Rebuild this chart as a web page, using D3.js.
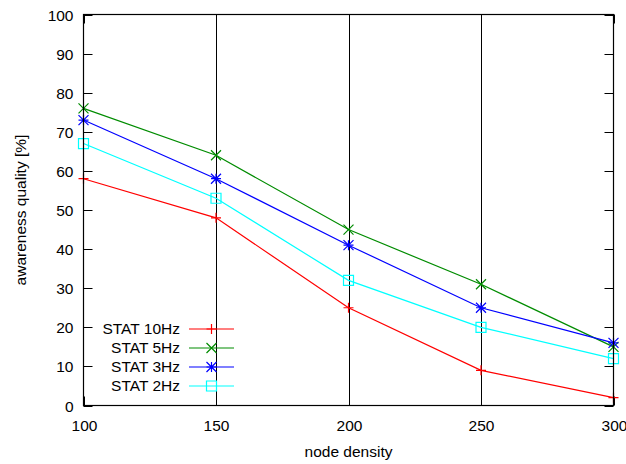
<!DOCTYPE html>
<html><head><meta charset="utf-8">
<script src="https://cdn.jsdelivr.net/npm/d3@7"></script>
<style>body{margin:0;background:#fff}svg{display:block}text{font-family:"Liberation Sans",Arial,sans-serif;font-size:15.5px;fill:#000}</style>
</head><body><svg id="c" width="626" height="464"></svg>
<script>
const xValues = [100, 150, 200, 250, 300];
const seriesNames = ["STAT 10Hz", "STAT 5Hz", "STAT 3Hz", "STAT 2Hz"];
const stat10 = [58, 48, 25, 9, 2];
const stat5 = [76, 64, 45, 31, 15];
const stat3 = [73, 58, 41, 25, 16];
const stat2 = [67, 53, 32, 20, 12];
const colors = ["#ff0000", "#008c00", "#0000ff", "#00ffff"];
const markers = ["plus", "cross", "star", "square"];
const yTicks = [0,10,20,30,40,50,60,70,80,90,100];
const xTicks = [100,150,200,250,300];
const gridX = [150,200,250];

const series = [stat10, stat5, stat3, stat2];
const svg = d3.select("#c");
const L=83.5, R=613.5, T=14.5, B=405.5;
const x = d3.scaleLinear().domain([100,300]).range([L,R]);
const y = d3.scaleLinear().domain([0,100]).range([B,T]);

svg.selectAll(".g").data(gridX).enter().append("line")
  .attr("x1",d=>Math.round(x(d))+0.5).attr("x2",d=>Math.round(x(d))+0.5)
  .attr("y1",T).attr("y2",B).attr("stroke","#000").attr("stroke-width",1);

const tl=9;
yTicks.forEach(v=>{
  const yy=Math.round(y(v))+0.5;
  svg.append("line").attr("x1",L).attr("x2",L+tl).attr("y1",yy).attr("y2",yy).attr("stroke","#000");
  svg.append("line").attr("x1",R-tl).attr("x2",R).attr("y1",yy).attr("y2",yy).attr("stroke","#000");
  svg.append("text").attr("x",L-10).attr("y",yy).attr("dy","0.35em").attr("text-anchor","end").text(v);
});
xTicks.forEach(v=>{
  const xx=Math.round(x(v))+0.5;
  svg.append("line").attr("x1",xx).attr("x2",xx).attr("y1",B).attr("y2",B-tl).attr("stroke","#000");
  svg.append("line").attr("x1",xx).attr("x2",xx).attr("y1",T).attr("y2",T+tl).attr("stroke","#000");
  svg.append("text").attr("x",xx).attr("y",B+20).attr("dy","0.35em").attr("text-anchor","middle").text(v);
});

function drawMarker(g, type, cx, cy, color){
  const p = d3.path();
  if(type==="plus"){ p.moveTo(cx-5,cy);p.lineTo(cx+5,cy);p.moveTo(cx,cy-5);p.lineTo(cx,cy+5); }
  else if(type==="cross"){ p.moveTo(cx-5,cy-5);p.lineTo(cx+5,cy+5);p.moveTo(cx-5,cy+5);p.lineTo(cx+5,cy-5); }
  else if(type==="star"){ p.moveTo(cx-5,cy);p.lineTo(cx+5,cy);p.moveTo(cx,cy-5);p.lineTo(cx,cy+5);
    p.moveTo(cx-5,cy-5);p.lineTo(cx+5,cy+5);p.moveTo(cx-5,cy+5);p.lineTo(cx+5,cy-5); }
  else { p.rect(cx-5,cy-5,10,10); }
  g.append("path").attr("d",p.toString()).attr("fill","none").attr("stroke",color).attr("stroke-width",1.2);
}

const line = d3.line().x((d,i)=>x(xValues[i])).y(d=>y(d));
series.forEach((s,k)=>{
  const g = svg.append("g");
  g.append("path").attr("d",line(s)).attr("fill","none").attr("stroke",colors[k]).attr("stroke-width",1.2);
  s.forEach((v,i)=>drawMarker(g, markers[k], x(xValues[i]), y(v), colors[k]));
});

svg.append("rect").attr("x",L).attr("y",T).attr("width",R-L).attr("height",B-T)
  .attr("fill","none").attr("stroke","#000").attr("stroke-width",1.2);

const legY0=329, legDy=19;
seriesNames.forEach((n,k)=>{
  const yy=legY0+k*legDy;
  svg.append("text").attr("x",180).attr("y",yy).attr("dy","0.35em").attr("text-anchor","end").text(n);
  svg.append("line").attr("x1",189).attr("x2",234).attr("y1",yy).attr("y2",yy).attr("stroke",colors[k]).attr("stroke-width",1.2);
  drawMarker(svg, markers[k], 211.5, yy, colors[k]);
});

svg.append("text").attr("x",(L+R)/2).attr("y",452).attr("dy","0.35em").attr("text-anchor","middle").text("node density");
svg.append("text").attr("transform",`translate(21,${(T+B)/2}) rotate(-90)`).attr("dy","0.35em").attr("text-anchor","middle").text("awareness quality [%]");
</script></body></html>
